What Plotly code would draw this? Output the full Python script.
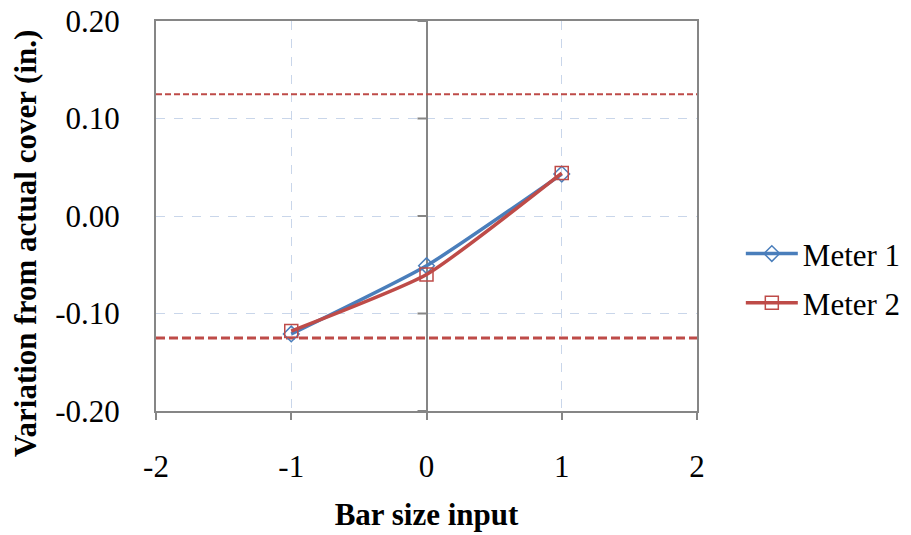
import plotly.graph_objects as go

bar_size = [-1, 0, 1]
meter1 = [-0.121, -0.051, 0.043]
meter2 = [-0.118, -0.060, 0.044]
tolerance_upper = 0.125
tolerance_lower = -0.125
x_range = [-2, 2]
y_range = [-0.2, 0.2]
x_ticks = [-2, -1, 0, 1, 2]
y_ticks = [-0.2, -0.1, 0.0, 0.1, 0.2]

FONT = "Liberation Serif"
FS = 31
GRID = "#c9d6ea"
AXIS = "#868686"
BLUE = "#4a7ebb"
RED = "#be4b48"

fig = go.Figure()

fig.add_trace(go.Scatter(
    x=x_range, y=[tolerance_upper, tolerance_upper], mode="lines",
    line=dict(color=RED, width=2, dash="6px,3px"), showlegend=False, hoverinfo="skip"))
fig.add_trace(go.Scatter(
    x=x_range, y=[tolerance_lower, tolerance_lower], mode="lines",
    line=dict(color=RED, width=3, dash="9px,4px"), showlegend=False, hoverinfo="skip"))

fig.add_trace(go.Scatter(
    x=bar_size, y=meter1, mode="lines+markers", name="Meter 1", legendgroup="m1",
    line=dict(color=BLUE, width=3.5, shape="spline", smoothing=0.5),
    marker=dict(symbol="diamond-open", size=12, color=BLUE, line=dict(width=1.5))))
fig.add_trace(go.Scatter(
    x=bar_size, y=meter2, mode="lines+markers", name="Meter 2", legendgroup="m2",
    line=dict(color=RED, width=3.5, shape="spline", smoothing=0.5),
    marker=dict(symbol="square-open", size=13, color=RED, line=dict(width=1.5))))

# tick marks on the y axis that crosses at x = 0
for v in y_ticks:
    fig.add_shape(type="line", xref="x", yref="y", xsizemode="pixel", xanchor=0,
                  x0=-9, x1=0, y0=v, y1=v, line=dict(color=AXIS, width=2), layer="above")

fig.add_annotation(
    text="<b>Variation from actual cover (in.)</b>", textangle=-90,
    xref="paper", yref="paper", x=-0.2403, y=0.4308,
    xanchor="center", yanchor="middle", showarrow=False,
    font=dict(family=FONT, size=FS, color="black"))

fig.update_layout(
    width=911, height=535,
    margin=dict(l=148, r=222, t=13, b=132),
    paper_bgcolor="white", plot_bgcolor="white",
    font=dict(family=FONT, size=FS, color="black"),
    showlegend=True,
    legend=dict(x=1.081, y=0.34, xanchor="left", yanchor="middle",
                font=dict(family=FONT, size=FS), traceorder="grouped",
                tracegroupgap=6, itemwidth=52, bgcolor="rgba(0,0,0,0)"),
)

fig.update_xaxes(
    range=x_range, tickvals=x_ticks, ticktext=[str(t) for t in x_ticks],
    showgrid=True, gridcolor=GRID, griddash="dash", gridwidth=1,
    zeroline=True, zerolinecolor=AXIS, zerolinewidth=2,
    showline=True, linecolor=AXIS, linewidth=2, mirror=True,
    ticks="outside", ticklen=7, tickcolor=AXIS, tickwidth=2,
    ticklabelstandoff=20, ticklabeloverflow="allow", automargin=False,
    tickfont=dict(family=FONT, size=FS),
    title=dict(text="<b>Bar size input</b>", font=dict(family=FONT, size=FS), standoff=20),
)
fig.update_yaxes(
    range=y_range, tickvals=y_ticks, ticktext=[f"{t:.2f}" for t in y_ticks],
    showgrid=True, gridcolor=GRID, griddash="dash", gridwidth=1,
    zeroline=False,
    showline=True, linecolor=AXIS, linewidth=2, mirror=True,
    ticks="", ticklabelstandoff=28, ticklabeloverflow="allow", automargin=False,
    tickfont=dict(family=FONT, size=FS),
)

fig.write_html("out.html")
